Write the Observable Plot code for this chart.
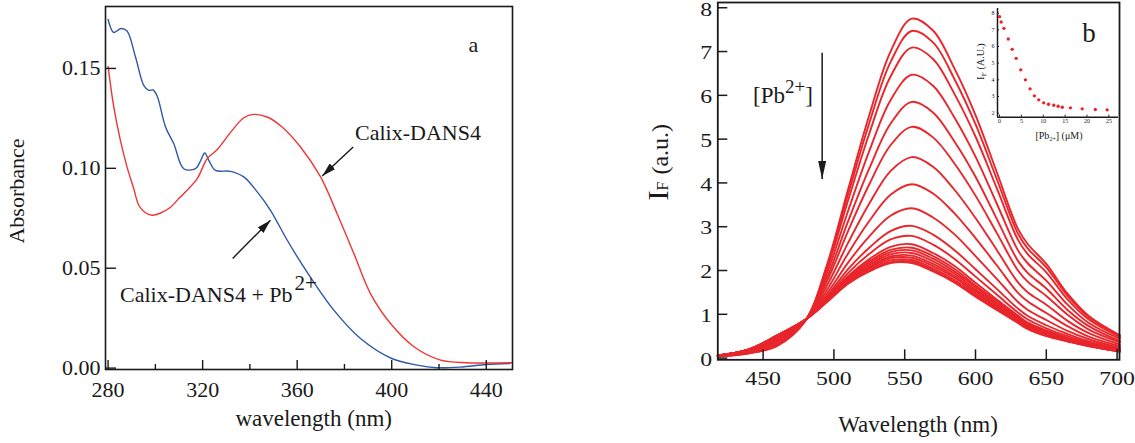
<!DOCTYPE html>
<html><head><meta charset="utf-8">
<script src="https://cdn.jsdelivr.net/npm/d3@7"></script>
<script src="https://cdn.jsdelivr.net/npm/@observablehq/plot@0.6"></script>
<style>
body{margin:0;background:#fff;}
#wrap{position:relative;width:1135px;height:443px;overflow:hidden;background:#fff;}
#wrap > svg{position:absolute;}
</style></head><body><div id="wrap"></div>
<script>
// ---------- Panel a: absorbance ----------
const complexWl = [280, 282.4, 285.5, 288, 291.6, 295.1, 297.2, 299, 300.7, 304.3, 307.8, 312, 317, 319.2, 320.9, 322.8, 325.4, 331.8, 337.4, 343.1, 348.7, 355.8, 364.2, 375.5, 386.8, 400, 410.8, 419, 429, 440, 450];
const complexAbs = [0.1745, 0.168, 0.170, 0.1687, 0.1557, 0.1415, 0.139, 0.1392, 0.1363, 0.1207, 0.1123, 0.0998, 0.0998, 0.104, 0.1077, 0.1035, 0.099, 0.0985, 0.0957, 0.0882, 0.079, 0.064, 0.048, 0.029, 0.0148, 0.0048, 0.0015, 0.0002, 0.0005, 0.0018, 0.0023];
const freeWl = [280, 282.4, 285.2, 288, 290.8, 293, 295.5, 298.6, 302, 306.4, 310, 313.4, 317.7, 321.9, 326.1, 331.8, 337.4, 341.6, 347.3, 353.6, 361.4, 369.9, 376.9, 384, 391, 399.5, 409.4, 420.7, 432, 451];
const freeAbs = [0.151, 0.1307, 0.114, 0.1007, 0.09, 0.0815, 0.078, 0.0765, 0.0775, 0.0805, 0.085, 0.089, 0.0948, 0.1048, 0.1093, 0.118, 0.1253, 0.127, 0.1257, 0.1207, 0.1107, 0.0957, 0.0773, 0.0573, 0.0373, 0.0223, 0.0107, 0.004, 0.0027, 0.0027];
const arrowsA = [
  {x1: 383.7, y1: 0.1107, x2: 370.6, y2: 0.0962},
  {x1: 332.7, y1: 0.0549, x2: 348.7, y2: 0.0740}
];
const xTicksA = [280, 320, 360, 400, 440];
const xMinorA = [300, 340, 380, 420];
const yTicksA = [0, 0.05, 0.10, 0.15];

// ---------- Panel b: emission spectra ----------
const emWl = [418, 440, 460, 480, 495, 510, 525, 540, 555, 570, 585, 600, 615, 630, 637, 650, 665, 680, 702];
const emCurves = [
  [0.04, 0.11, 0.28, 0.86, 2.12, 3.85, 5.55, 7.00, 7.75, 7.48, 6.62, 5.55, 4.25, 2.95, 2.60, 2.15, 1.47, 0.96, 0.52],
  [0.04, 0.11, 0.29, 0.86, 2.08, 3.74, 5.37, 6.76, 7.47, 7.21, 6.38, 5.34, 4.09, 2.84, 2.50, 2.07, 1.42, 0.93, 0.50],
  [0.04, 0.12, 0.31, 0.86, 2.02, 3.60, 5.13, 6.43, 7.09, 6.83, 6.04, 5.06, 3.88, 2.70, 2.37, 1.96, 1.34, 0.88, 0.48],
  [0.05, 0.13, 0.34, 0.86, 1.93, 3.36, 4.73, 5.89, 6.47, 6.22, 5.50, 4.60, 3.53, 2.46, 2.16, 1.77, 1.22, 0.80, 0.44],
  [0.05, 0.14, 0.36, 0.87, 1.83, 3.12, 4.33, 5.35, 5.85, 5.61, 4.95, 4.14, 3.18, 2.22, 1.94, 1.59, 1.10, 0.73, 0.39],
  [0.05, 0.15, 0.39, 0.87, 1.75, 2.90, 3.97, 4.86, 5.28, 5.04, 4.45, 3.71, 2.86, 2.00, 1.74, 1.42, 0.99, 0.65, 0.36],
  [0.05, 0.16, 0.42, 0.87, 1.65, 2.63, 3.53, 4.27, 4.59, 4.37, 3.85, 3.20, 2.47, 1.73, 1.50, 1.22, 0.85, 0.57, 0.31],
  [0.05, 0.17, 0.44, 0.87, 1.55, 2.39, 3.13, 3.73, 3.97, 3.76, 3.31, 2.74, 2.12, 1.49, 1.29, 1.03, 0.73, 0.49, 0.27],
  [0.06, 0.18, 0.47, 0.88, 1.47, 2.18, 2.78, 3.25, 3.42, 3.21, 2.83, 2.33, 1.81, 1.28, 1.10, 0.87, 0.62, 0.43, 0.23],
  [0.06, 0.19, 0.48, 0.88, 1.41, 2.03, 2.52, 2.90, 3.02, 2.82, 2.47, 2.03, 1.58, 1.13, 0.96, 0.75, 0.55, 0.38, 0.21],
  [0.06, 0.19, 0.49, 0.88, 1.37, 1.94, 2.38, 2.71, 2.79, 2.59, 2.27, 1.86, 1.45, 1.04, 0.88, 0.68, 0.50, 0.35, 0.19],
  [0.06, 0.19, 0.50, 0.88, 1.35, 1.87, 2.26, 2.54, 2.60, 2.40, 2.11, 1.72, 1.34, 0.97, 0.81, 0.63, 0.46, 0.32, 0.18],
  [0.06, 0.19, 0.50, 0.88, 1.33, 1.84, 2.21, 2.47, 2.52, 2.33, 2.04, 1.66, 1.30, 0.94, 0.78, 0.60, 0.45, 0.31, 0.17],
  [0.06, 0.20, 0.51, 0.88, 1.32, 1.81, 2.17, 2.42, 2.46, 2.27, 1.98, 1.62, 1.26, 0.91, 0.76, 0.59, 0.44, 0.31, 0.17],
  [0.06, 0.20, 0.51, 0.88, 1.31, 1.79, 2.13, 2.37, 2.40, 2.21, 1.93, 1.57, 1.23, 0.89, 0.74, 0.57, 0.43, 0.30, 0.17],
  [0.06, 0.20, 0.51, 0.88, 1.30, 1.77, 2.09, 2.32, 2.34, 2.15, 1.88, 1.53, 1.20, 0.87, 0.72, 0.55, 0.41, 0.29, 0.16],
  [0.06, 0.20, 0.52, 0.88, 1.30, 1.75, 2.06, 2.28, 2.29, 2.10, 1.84, 1.49, 1.17, 0.85, 0.70, 0.54, 0.40, 0.29, 0.16],
  [0.06, 0.20, 0.52, 0.88, 1.29, 1.73, 2.03, 2.23, 2.24, 2.05, 1.79, 1.45, 1.14, 0.83, 0.69, 0.52, 0.39, 0.28, 0.15],
  [0.06, 0.20, 0.52, 0.88, 1.28, 1.71, 2.00, 2.19, 2.20, 2.01, 1.75, 1.42, 1.12, 0.81, 0.67, 0.51, 0.39, 0.28, 0.15],
  [0.06, 0.20, 0.52, 0.88, 1.28, 1.70, 1.98, 2.17, 2.17, 1.98, 1.73, 1.40, 1.10, 0.80, 0.66, 0.50, 0.38, 0.27, 0.15]
];
const arrowB = [{x: 491.7, y1: 6.97, y2: 4.09}];
const xTicksB = [450, 500, 550, 600, 650, 700];
const yTicksB = [0, 1, 2, 3, 4, 5, 6, 7, 8];

// ---------- Inset: peak intensity vs [Pb2+] ----------
const pbConc = [0, 0.38, 1.0, 2.0, 2.9, 3.8, 4.86, 5.92, 6.98, 7.97, 8.96, 10.1, 11.2, 12.4, 13.4, 14.35, 16.2, 18.9, 21.9, 24.6];
const peakIF = [7.79, 7.47, 7.09, 6.45, 5.83, 5.29, 4.60, 4.00, 3.46, 3.04, 2.80, 2.62, 2.54, 2.48, 2.42, 2.36, 2.32, 2.26, 2.22, 2.20];
const insetXTicks = [0, 5, 10, 15, 20, 25];
const insetYTicks = [2, 3, 4, 5, 6, 7, 8];

// ---------- build ----------
const serif = '"Liberation Serif","Times New Roman",serif';
const ink = "#1a1a1a";
const wrap = document.getElementById("wrap");
function place(el, left, top) { el.style.position = "absolute"; el.style.left = left + "px"; el.style.top = top + "px"; wrap.appendChild(el); }
function addHead(svg, id, len, wid) {
  const s = d3.select(svg);
  const defs = s.insert("defs", ":first-child");
  defs.append("marker").attr("id", id)
    .attr("viewBox", `0 0 ${len} ${wid}`).attr("refX", len).attr("refY", wid / 2)
    .attr("markerWidth", len).attr("markerHeight", wid)
    .attr("markerUnits", "userSpaceOnUse").attr("orient", "auto")
    .append("path").attr("d", `M0,0L${len},${wid / 2}L0,${wid}Z`).attr("fill", ink);
  s.selectAll('g[aria-label="link"] path').attr("marker-end", `url(#${id})`);
}
// widen tick label glyphs horizontally (the reference's tick digits are wide and short)
function stretchTicks(svg, sx, selector, shiftY) {
  d3.select(svg).selectAll(selector).each(function() {
    const el = d3.select(this);
    let tr = el.attr("transform");
    if (!tr) {
      const x = +el.attr("x") || 0, y = +el.attr("y") || 0;
      el.attr("x", null).attr("y", null);
      tr = `translate(${x},${y})`;
    }
    el.attr("transform", tr + ` translate(0,${shiftY}) scale(${sx},1)`);
  });
}

const complexRows = complexWl.map((w, i) => ({w, v: complexAbs[i]}));
const freeRows = freeWl.map((w, i) => ({w, v: freeAbs[i]}));

const plotA = Plot.plot({
  width: 530, height: 443,
  marginLeft: 105, marginRight: 18, marginTop: 6, marginBottom: 74,
  style: {fontFamily: serif, background: "transparent", color: ink, overflow: "visible"},
  x: {domain: [278.9, 451.1]},
  y: {domain: [-0.0007, 0.181]},
  marks: [
    Plot.line(complexRows, {x: "w", y: "v", stroke: "#2f58a8", strokeWidth: 1.4, curve: "catmull-rom"}),
    Plot.line(freeRows, {x: "w", y: "v", stroke: "#ef3535", strokeWidth: 1.4, curve: "catmull-rom"}),
    Plot.link(arrowsA, {x1: "x1", y1: "y1", x2: "x2", y2: "y2", stroke: ink, strokeWidth: 1.4}),
    Plot.frame({stroke: ink, strokeWidth: 1.6}),
    Plot.axisX({ticks: xTicksA, tickSize: -9, tickPadding: 22.5, fontSize: 20, label: null, tickFormat: d => String(d), strokeWidth: 1.4}),
    Plot.axisX({ticks: xMinorA, tickSize: -5, tickFormat: () => "", label: null, strokeWidth: 1.4}),
    Plot.axisY({ticks: yTicksA, tickSize: -11, tickPadding: 16, fontSize: 20, label: null, tickFormat: d3.format(".2f"), strokeWidth: 1.4})
  ]
});
place(plotA, 0, 0);
addHead(plotA, "headA", 14, 8);
stretchTicks(plotA, 1.1, 'g[aria-label$="tick label"] text', 0);

const emRows = emCurves.flatMap((vals, k) => emWl.map((w, i) => ({w, v: vals[i], k})));
const plotB = Plot.plot({
  width: 495, height: 443,
  marginLeft: 77.3, marginRight: 16, marginTop: 2, marginBottom: 83.7,
  style: {fontFamily: serif, background: "transparent", color: ink, overflow: "visible"},
  x: {domain: [418, 701.7]},
  y: {domain: [-0.039, 8.12]},
  marks: [
    Plot.line(emRows, {x: "w", y: "v", z: "k", stroke: "#e8262b", strokeWidth: 1.9, curve: "catmull-rom"}),
    Plot.link(arrowB, {x1: "x", x2: "x", y1: "y1", y2: "y2", stroke: ink, strokeWidth: 1.5}),
    Plot.frame({stroke: ink, strokeWidth: 1.8}),
    Plot.axisX({ticks: xTicksB, tickSize: -10, tickPadding: 21, fontSize: 19.5, label: null, tickFormat: d => String(d), strokeWidth: 1.5}),
    Plot.axisY({ticks: yTicksB, tickSize: -10, tickPadding: 15.6, fontSize: 19.5, label: null, tickFormat: d => String(d), strokeWidth: 1.5})
  ]
});
place(plotB, 640, 0);
addHead(plotB, "headB", 18, 8);
stretchTicks(plotB, 1.22, 'g[aria-label="x-axis tick label"] text', 0);
stretchTicks(plotB, 1.22, 'g[aria-label="y-axis tick label"] text', 1.5);

const insetRows = pbConc.map((c, i) => ({c, v: peakIF[i]}));
const plotI = Plot.plot({
  width: 160, height: 150,
  marginLeft: 37, marginRight: 2, marginTop: 8, marginBottom: 33.3,
  style: {fontFamily: serif, background: "transparent", color: ink, overflow: "visible"},
  x: {domain: [-0.46, 27.2]},
  y: {domain: [1.76, 8.28]},
  marks: [
    Plot.ruleX([-0.46], {stroke: ink, strokeWidth: 1.5}),
    Plot.ruleY([1.76], {stroke: ink, strokeWidth: 1.5}),
    Plot.dot(insetRows, {x: "c", y: "v", r: 1.7, fill: "#e8262b", stroke: null}),
    Plot.axisX({ticks: insetXTicks, tickSize: -2, tickPadding: 4, fontSize: 6, label: null, tickFormat: d => String(d)}),
    Plot.axisY({ticks: insetYTicks, tickSize: -2, tickPadding: 5, fontSize: 6, label: null, tickFormat: d => String(d)})
  ]
});
place(plotI, 960, 0);

// ---------- text overlay ----------
const ov = d3.create("svg").attr("width", 1135).attr("height", 443)
  .style("position", "absolute").style("left", "0px").style("top", "0px")
  .style("font-family", serif).style("fill", ink).style("pointer-events", "none");
function txt(x, y, anchor, size) {
  return ov.append("text").attr("x", x).attr("y", y).attr("text-anchor", anchor).attr("font-size", size);
}
// panel a
ov.append("text").attr("transform", "translate(24,191) rotate(-90)").attr("text-anchor", "middle").attr("font-size", 22).text("Absorbance");
txt(313.7, 426, "middle", 23).text("wavelength (nm)");
txt(355, 140, "start", 22).text("Calix-DANS4");
{
  const t = txt(120, 301.5, "start", 22);
  t.append("tspan").text("Calix-DANS4 + Pb");
  t.append("tspan").attr("font-size", 21).attr("dy", -12).attr("dx", 2).text("2+");
}
txt(473.5, 52, "middle", 22).text("a");
// panel b
{
  const t = ov.append("text").attr("transform", "translate(668,200.5) rotate(-90)").attr("text-anchor", "start");
  t.append("tspan").attr("font-size", 30).text("I");
  t.append("tspan").attr("font-size", 16).text("F");
  t.append("tspan").attr("font-size", 24).attr("dx", 7).text("(a.u.)");
}
txt(918, 432, "middle", 23).text("Wavelength (nm)");
{
  const t = txt(753, 103, "start", 23);
  t.append("tspan").text("[Pb");
  t.append("tspan").attr("font-size", 19).attr("dy", -10).text("2+");
  t.append("tspan").attr("dy", 10).text("]");
}
txt(1089, 42, "middle", 27).text("b");
// inset
{
  const t = ov.append("text").attr("transform", "translate(984,80) rotate(-90)").attr("text-anchor", "start");
  t.append("tspan").attr("font-size", 11).text("I");
  t.append("tspan").attr("font-size", 7).attr("dy", 2).text("F");
  t.append("tspan").attr("font-size", 10).attr("dy", -2).attr("dx", 3).text("(A.U.)");
}
{
  const t = txt(1059, 139, "middle", 10);
  t.append("tspan").text("[Pb");
  t.append("tspan").attr("font-size", 6).attr("dy", 2).text("2+");
  t.append("tspan").attr("dy", -2).text("] (μM)");
}
wrap.appendChild(ov.node());
</script>
</body></html>
